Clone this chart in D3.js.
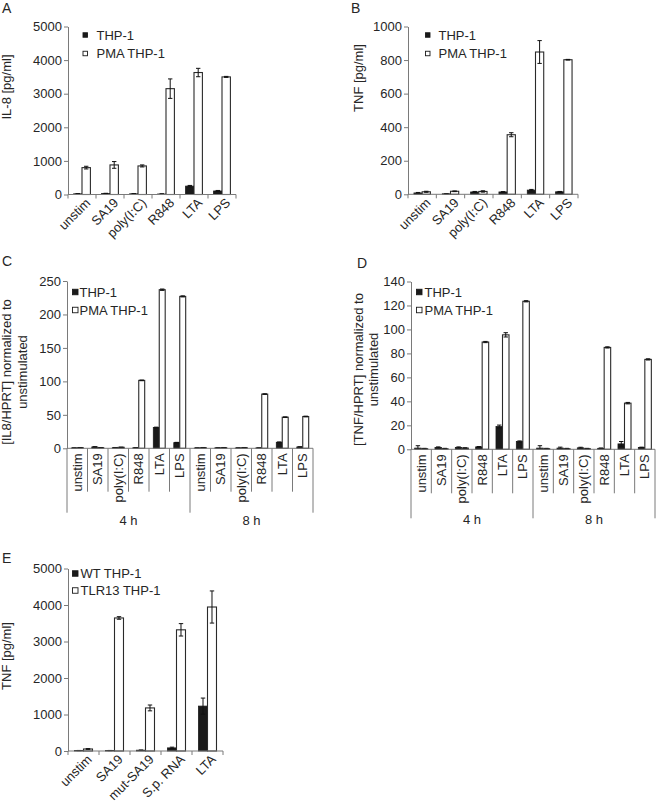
<!DOCTYPE html>
<html><head><meta charset="utf-8">
<script src="https://cdn.jsdelivr.net/npm/d3@7"></script>
<style>
body{margin:0;background:#fff;}
svg text{font-family:"Liberation Sans",Arial,sans-serif;fill:#262626;}
</style></head>
<body><svg id="c" width="658" height="807"></svg>
<script>
// ---------- data ----------
const catsAB = ["unstim","SA19","poly(I:C)","R848","LTA","LPS"];
const legendAD = ["THP-1","PMA THP-1"];
// Panel A: IL-8 [pg/ml]
const il8Thp1 = [20, 30, 20, 15, 250, 105];
const il8Thp1Err = [5, 6, 5, 4, 20, 15];
const il8Pma = [800, 880, 850, 3150, 3630, 3500];
const il8PmaErr = [40, 100, 30, 290, 125, 15];
const ticksA = [0,1000,2000,3000,4000,5000];
// Panel B: TNF [pg/ml]
const tnfThp1 = [8, 3, 14, 14, 25, 15];
const tnfThp1Err = [3, 1, 3, 2, 4, 2];
const tnfPma = [15, 18, 17, 355, 848, 802];
const tnfPmaErr = [3, 2, 4, 12, 68, 2];
const ticksB = [0,200,400,600,800,1000];
// Panel C: [IL8/HPRT] normalized
const groupsCD = ["4 h","8 h"];
const il8hThp1 = [0.5, 2, 1, 0.8, 31, 8.5, 0.5, 0.6, 0.5, 0.5, 9, 2];
const il8hThp1Err = [0.2, 0.4, 0.2, 0.2, 0.6, 0.4, 0.2, 0.2, 0.2, 0.2, 0.5, 0.3];
const il8hPma = [1, 1, 1.5, 101.5, 237, 227, 1, 1, 1, 81, 46.5, 47.5];
const il8hPmaErr = [0.2, 0.2, 0.2, 0.5, 1, 0.8, 0.2, 0.2, 0.2, 0.5, 0.5, 0.5];
const ticksC = [0,50,100,150,200,250];
// Panel D: [TNF/HPRT] normalized
const tnfhThp1 = [1, 1.5, 1.5, 2, 19, 6.5, 1, 1, 1.2, 0.8, 4.5, 1.5];
const tnfhThp1Err = [2, 0.5, 0.5, 0.3, 1.2, 0.5, 2, 0.8, 0.5, 0.3, 2, 0.3];
const tnfhPma = [0.5, 0.5, 1, 89.5, 95.5, 123.5, 0.5, 0.5, 0.5, 85, 38.5, 75];
const tnfhPmaErr = [0.3, 0.3, 0.3, 0.5, 1.8, 0.5, 0.3, 0.3, 0.3, 0.5, 0.6, 0.5];
const ticksD = [0,20,40,60,80,100,120,140];
// Panel E: TNF [pg/ml]
const catsE = ["unstim","SA19","mut-SA19","S.p. RNA","LTA"];
const legendE = ["WT THP-1","TLR13 THP-1"];
const wtVals = [12, 12, 22, 85, 1230];
const wtErr = [3, 3, 5, 20, 220];
const tlrVals = [55, 3645, 1180, 3320, 3945];
const tlrErr = [10, 35, 80, 170, 440];
const ticksE = [0,1000,2000,3000,4000,5000];

// ---------- drawing ----------
const svg = d3.select("#c");
const AX = "#7a7a7a", INK = "#1a1a1a";

function panel(o){
  const g = svg.append("g");
  const cats = o.groups ? o.groups.flatMap(gr => o.cats.map(c => gr + "|" + c)) : o.cats;
  const x = d3.scaleBand().domain(cats).range([o.x0, o.x1]).padding(0);
  const y = d3.scaleLinear().domain([0, d3.max(o.ticks)]).range([o.yb, o.yt]);
  const bw = x.bandwidth() * o.frac;
  const rows = cats.map((c,i) => ({c, v1:o.s1[i], e1:o.e1[i], v2:o.s2[i], e2:o.e2[i]}));
  const cx = d => x(d.c) + x.bandwidth()/2;
  g.selectAll(".b1").data(rows).join("rect")
    .attr("x", d => cx(d) - bw).attr("width", bw)
    .attr("y", d => y(d.v1)).attr("height", d => y(0) - y(d.v1))
    .attr("fill", INK).attr("stroke", INK).attr("stroke-width", 0.8);
  g.selectAll(".b2").data(rows).join("rect")
    .attr("x", d => cx(d)).attr("width", bw)
    .attr("y", d => y(d.v2)).attr("height", d => y(0) - y(d.v2))
    .attr("fill", "#fff").attr("stroke", "#2a2a2a").attr("stroke-width", 1.1);
  const errs = rows.flatMap(d => [
    {x: cx(d) - bw/2, v: d.v1, e: d.e1},
    {x: cx(d) + bw/2, v: d.v2, e: d.e2}]);
  const cap = 2.2;
  const eg = g.append("g").attr("stroke", "#111").attr("stroke-width", 1);
  eg.selectAll(".ev").data(errs).join("line")
    .attr("x1", d => d.x).attr("x2", d => d.x)
    .attr("y1", d => y(Math.max(0, d.v - d.e))).attr("y2", d => y(d.v + d.e));
  eg.selectAll(".et").data(errs).join("line")
    .attr("x1", d => d.x - cap).attr("x2", d => d.x + cap)
    .attr("y1", d => y(d.v + d.e)).attr("y2", d => y(d.v + d.e));
  eg.selectAll(".eb").data(errs.filter(d => d.v - d.e > 0)).join("line")
    .attr("x1", d => d.x - cap).attr("x2", d => d.x + cap)
    .attr("y1", d => y(d.v - d.e)).attr("y2", d => y(d.v - d.e));
  const ya = g.append("g").attr("transform", `translate(${o.x0},0)`)
    .call(d3.axisLeft(y).tickValues(o.ticks).tickSize(4).tickSizeOuter(0).tickPadding(2).tickFormat(d3.format("d")));
  ya.select(".domain").attr("stroke", AX);
  ya.selectAll(".tick line").attr("stroke", AX);
  ya.selectAll(".tick text").attr("font-size", 13).attr("fill", "#262626")
    .attr("font-family", "Liberation Sans, Arial, sans-serif");
  g.append("line").attr("x1", o.x0).attr("x2", o.x1).attr("y1", o.yb).attr("y2", o.yb)
    .attr("stroke", AX).attr("stroke-width", 1);
  const bounds = cats.map(c => x(c) + x.bandwidth()).concat([o.x0]);
  if (!o.groups) {
    g.selectAll(".xt").data(bounds).join("line")
      .attr("x1", d => d).attr("x2", d => d).attr("y1", o.yb).attr("y2", o.yb + 4)
      .attr("stroke", AX);
    g.selectAll(".xl").data(cats).join("text")
      .attr("transform", c => `translate(${x(c) + x.bandwidth()/2 + 6},${o.yb + 6}) rotate(-45)`)
      .attr("text-anchor", "end").attr("dy", "0.35em").attr("font-size", 13).text(c => c);
  } else {
    const n = o.cats.length;
    const isGroupEdge = (d, i) => i === cats.length || (i + 1) % n === 0;
    g.selectAll(".xt").data(bounds).join("line")
      .attr("x1", d => d).attr("x2", d => d).attr("y1", o.yb)
      .attr("y2", (d, i) => isGroupEdge(d, i) ? o.gEnd : o.cEnd)
      .attr("stroke", AX);
    g.selectAll(".xl").data(cats).join("text")
      .attr("transform", c => `translate(${x(c) + x.bandwidth()/2 + 4.5},${o.yb + 5}) rotate(-90)`)
      .attr("text-anchor", "end").attr("font-size", 13).text(c => c.split("|")[1]);
    g.selectAll(".gl").data(o.groups).join("text")
      .attr("x", gr => (x(gr + "|" + o.cats[0]) + x(gr + "|" + o.cats[n-1]) + x.bandwidth()) / 2)
      .attr("y", o.gLabelY).attr("text-anchor", "middle").attr("font-size", 13).text(gr => gr);
  }
  o.title.forEach((t, i) => {
    g.append("text").attr("transform", `translate(${o.titleX[i]},${o.titleY}) rotate(-90)`)
      .attr("text-anchor", "middle").attr("font-size", 13).text(t);
  });
  o.legend.forEach((t, i) => {
    const ly = o.ly + i * o.lstep;
    g.append("rect").attr("x", o.lx).attr("y", ly - o.ls/2).attr("width", o.ls).attr("height", o.ls)
      .attr("fill", i === 0 ? INK : "#fff").attr("stroke", INK).attr("stroke-width", 0.9);
    g.append("text").attr("x", o.ltx).attr("y", ly).attr("dy", "0.36em")
      .attr("font-size", 13).text(t);
  });
  svg.append("text").attr("x", o.letterX).attr("y", o.letterY).attr("font-size", 14).text(o.letter);
}

panel({letter:"A", letterX:2, letterY:13, cats:catsAB, s1:il8Thp1, e1:il8Thp1Err, s2:il8Pma, e2:il8PmaErr,
  ticks:ticksA, x0:68, x1:236, yb:194.5, yt:26.5, frac:0.3,
  title:["IL-8 [pg/ml]"], titleX:[10.5], titleY:87,
  legend:legendAD, lx:83, ly:35, lstep:18.5, ls:4.5, ltx:96.5});
panel({letter:"B", letterX:351, letterY:13, cats:catsAB, s1:tnfThp1, e1:tnfThp1Err, s2:tnfPma, e2:tnfPmaErr,
  ticks:ticksB, x0:408, x1:578, yb:194.3, yt:26.5, frac:0.29,
  title:["TNF [pg/ml]"], titleX:[362.5], titleY:78,
  legend:legendAD, lx:425.5, ly:35, lstep:18.5, ls:4.5, ltx:438.5});
panel({letter:"C", letterX:2, letterY:266, cats:catsAB, groups:groupsCD, s1:il8hThp1, e1:il8hThp1Err, s2:il8hPma, e2:il8hPmaErr,
  ticks:ticksC, x0:67, x1:313, yb:448.3, yt:281, frac:0.29, cEnd:491.7, gEnd:512.7, gLabelY:525,
  title:["[IL8/HPRT] normalized to","unstimulated"], titleX:[11,26.5], titleY:372,
  legend:legendAD, lx:72.5, ly:292, lstep:18, ls:5.5, ltx:79.5});
panel({letter:"D", letterX:357, letterY:268, cats:catsAB, groups:groupsCD, s1:tnfhThp1, e1:tnfhThp1Err, s2:tnfhPma, e2:tnfhPmaErr,
  ticks:ticksD, x0:411, x1:655, yb:449.3, yt:281.5, frac:0.32, cEnd:493.3, gEnd:518.3, gLabelY:523.5,
  title:["[TNF/HPRT] normalized to","unstimulated"], titleX:[362.5,377.5], titleY:369.5,
  legend:legendAD, lx:416.5, ly:292, lstep:18, ls:5.5, ltx:424.5});
panel({letter:"E", letterX:2, letterY:563, cats:catsE, s1:wtVals, e1:wtErr, s2:tlrVals, e2:tlrErr,
  ticks:ticksE, x0:68, x1:223, yb:751, yt:568.5, frac:0.29,
  title:["TNF [pg/ml]"], titleX:[10.5], titleY:656,
  legend:legendE, lx:72.5, ly:573.5, lstep:17, ls:5.5, ltx:80.5});
</script></body></html>
